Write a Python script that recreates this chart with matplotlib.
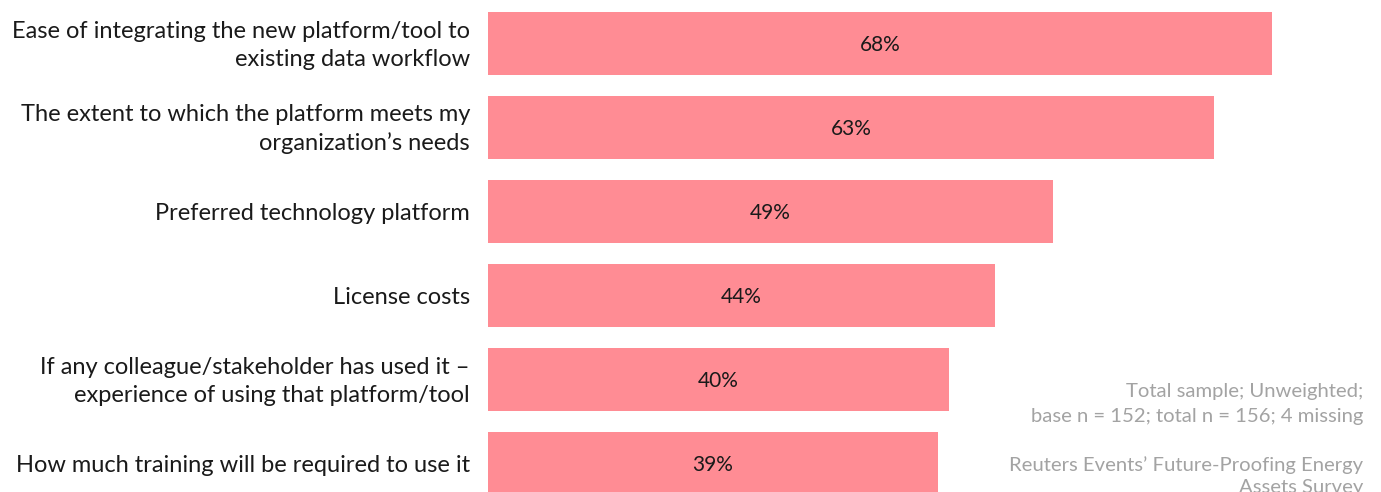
import matplotlib.pyplot as plt

categories = [
    "Ease of integrating the new platform/tool to\nexisting data workflow",
    "The extent to which the platform meets my\norganization\u2019s needs",
    "Preferred technology platform",
    "License costs",
    "If any colleague/stakeholder has used it \u2013\nexperience of using that platform/tool",
    "How much training will be required to use it",
]
values = [68, 63, 49, 44, 40, 39]

note_lines = "Total sample; Unweighted;\nbase n = 152; total n = 156; 4 missing"
source_lines = "Reuters Events\u2019 Future-Proofing Energy\nAssets Survey"

bar_color = "#FF8C94"
plt.rcParams['font.family'] = ['Lato', 'DejaVu Sans']

W, H = 1381, 492
fig = plt.figure(figsize=(W / 100, H / 100), dpi=100)
left = 488 / W
ax = fig.add_axes([left, 0, 1 - left, 1])

pos = list(range(len(categories)))
ax.barh(pos, values, height=0.75, color=bar_color)
ax.set_xlim(0, (W - 488) / 11.53)
ax.set_ylim((H - 43.5) / 84, -43.5 / 84)
ax.axis("off")

for p, v, c in zip(pos, values, categories):
    ax.text(v / 2, p + 0.02, f"{v}%", ha="center", va="center", fontsize=15, color="#1a1a1a")
    ax.text(-18 / 11.53, p + 0.02, c, ha="right", va="center", fontsize=17,
            color="#1a1a1a", linespacing=1.4)

fig.text(1363 / W, 1 - 404 / H, note_lines, ha="right", va="center",
         fontsize=14.6, color="#a3a3a3", linespacing=1.55)
fig.text(1363 / W, 1 - 476 / H, source_lines, ha="right", va="center",
         fontsize=14.6, color="#a3a3a3", linespacing=1.4)

fig.savefig("out.png", dpi=100)
